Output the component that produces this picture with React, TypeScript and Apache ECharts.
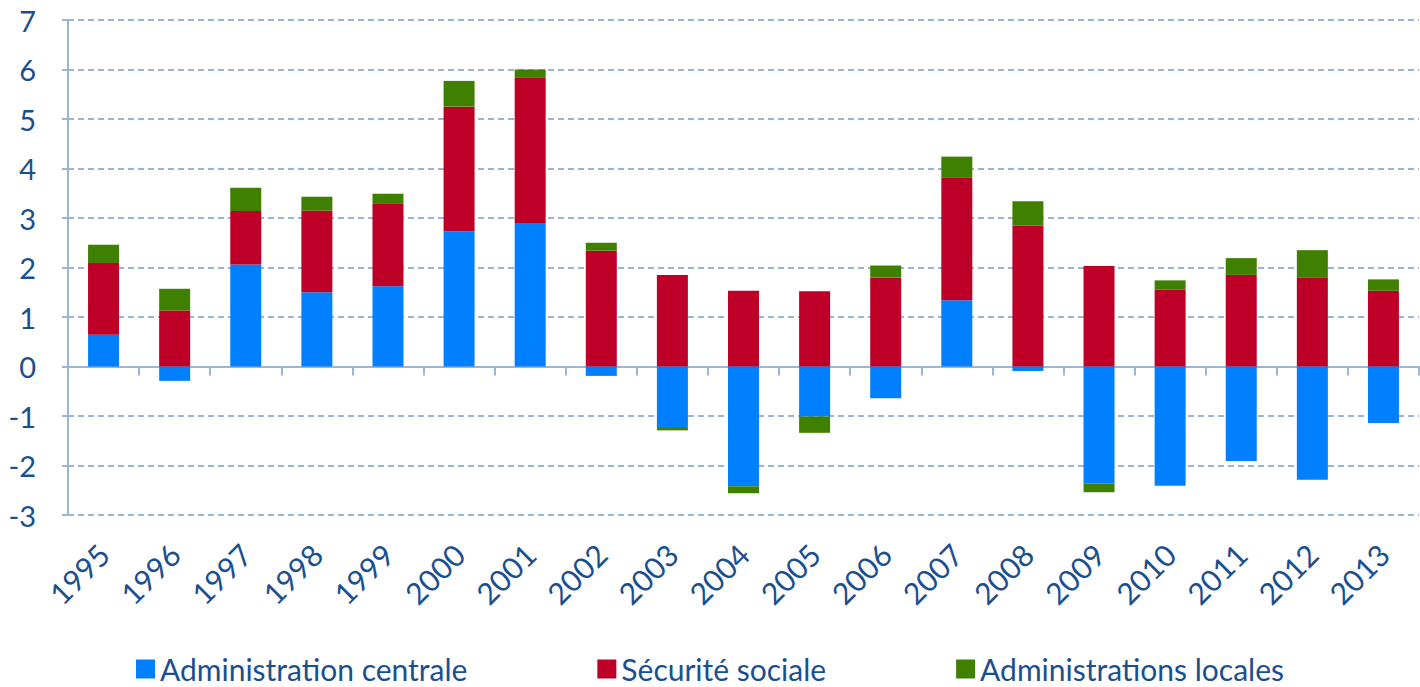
import React, { useEffect, useRef } from "react";
import * as echarts from "echarts";

const years = ["1995","1996","1997","1998","1999","2000","2001","2002","2003","2004","2005","2006","2007","2008","2009","2010","2011","2012","2013"];
const adminCentrale = [0.64,-0.29,2.06,1.50,1.62,2.73,2.90,-0.19,-1.24,-2.42,-1.01,-0.64,1.34,-0.09,-2.37,-2.41,-1.91,-2.29,-1.14];
const securiteSociale = [1.45,1.13,1.08,1.65,1.68,2.52,2.93,2.34,1.85,1.53,1.52,1.80,2.47,2.85,2.03,1.55,1.85,1.79,1.53];
const adminLocales = [0.37,0.44,0.47,0.28,0.19,0.52,0.17,0.16,-0.05,-0.14,-0.33,0.24,0.43,0.49,-0.17,0.19,0.34,0.56,0.23];
const seriesNames = ["Administration centrale","Sécurité sociale","Administrations locales"];
const seriesColors = ["#0080ff","#be0028","#408000"];

const TEXT = "#1a4f8f";
const GRID = "#9bb5d8";
const FONT = "Lato, 'Open Sans', sans-serif";

export default function App() {
  const ref = useRef<HTMLDivElement>(null);
  useEffect(() => {
    if (!ref.current) return;
    const chart = echarts.init(ref.current, undefined, { renderer: "svg" });
    const data = [adminCentrale, securiteSociale, adminLocales];
    chart.setOption({
      animation: false,
      textStyle: { fontFamily: FONT },
      grid: { left: 68, right: 1, top: 20, bottom: 172, containLabel: false },
      legend: {
        bottom: 3,
        left: "center",
        padding: [0, 5, 0, 5],
        itemWidth: 19,
        itemHeight: 19,
        itemGap: 130,
        icon: "rect",
        textStyle: { color: TEXT, fontSize: 30, fontFamily: FONT },
        data: seriesNames,
      },
      xAxis: [
        {
          type: "category",
          data: years,
          position: "bottom",
          axisLine: { show: false, onZero: false },
          axisTick: { show: false },
          axisLabel: { rotate: 45, margin: 34, color: TEXT, fontSize: 30, fontFamily: FONT },
          splitLine: { show: false },
        },
        {
          type: "category",
          data: years,
          position: "bottom",
          axisLine: { show: true, onZero: true, lineStyle: { color: GRID, width: 2 } },
          axisTick: { show: true, length: 9, lineStyle: { color: GRID, width: 2 } },
          axisLabel: { show: false },
          splitLine: { show: false },
        },
      ],
      yAxis: {
        type: "value",
        min: -3,
        max: 7,
        interval: 1,
        axisLine: { show: true, lineStyle: { color: GRID, width: 2 } },
        axisTick: { show: true, length: 10, lineStyle: { color: GRID, width: 2, type: [6, 4] } },
        axisLabel: { margin: 32, color: TEXT, fontSize: 29, fontFamily: FONT },
        splitLine: { show: true, lineStyle: { color: GRID, width: 2, type: [6, 4] } },
      },
      series: data.map((d, i) => ({
        name: seriesNames[i],
        type: "bar",
        stack: "total",
        xAxisIndex: 0,
        barWidth: 31,
        itemStyle: { color: seriesColors[i] },
        data: d,
      })),
    });
    return () => chart.dispose();
  }, []);
  return (
    <div
      ref={ref}
      style={{ position: "absolute", left: 0, top: 0, width: 1420, height: 687, background: "#fff" }}
    />
  );
}
